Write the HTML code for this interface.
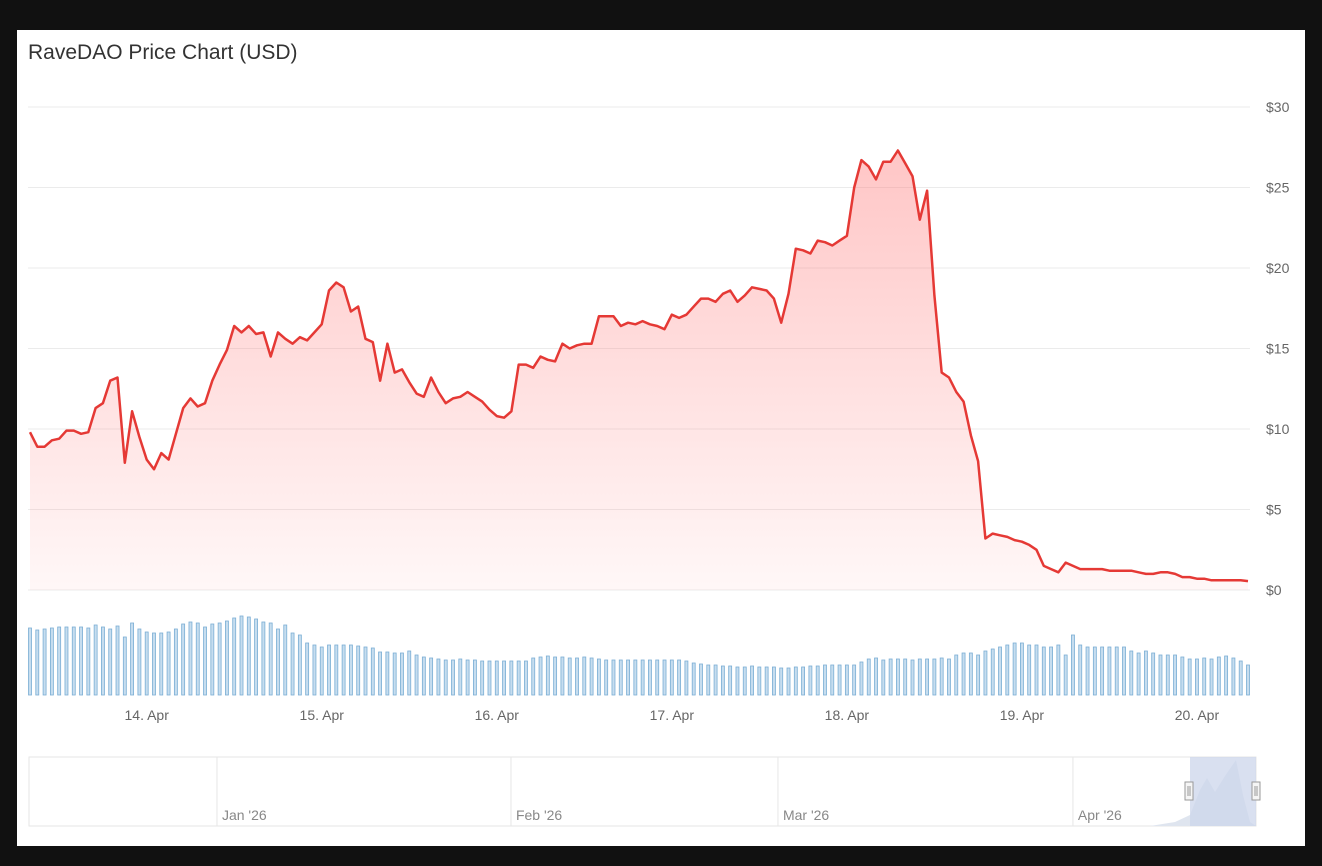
<!DOCTYPE html>
<html><head><meta charset="utf-8">
<style>
html,body{margin:0;padding:0;background:#111;width:1322px;height:866px;overflow:hidden}
#card{position:absolute;left:17px;top:30px;width:1288px;height:816px;background:#fff}
#title{position:absolute;left:28px;top:41px;font:21px "Liberation Sans",sans-serif;color:#333;margin:0;font-weight:normal}
svg{position:absolute;left:0;top:0}
text{font-family:"Liberation Sans",sans-serif}
</style></head>
<body>
<div id="card"></div>
<h1 id="title">RaveDAO Price Chart (USD)</h1>
<svg id="chart" width="1322" height="866">
<defs>
<linearGradient id="ag" x1="0" y1="0" x2="0" y2="1">
<stop offset="0" stop-color="#ff8080" stop-opacity="0.45"/>
<stop offset="1" stop-color="#ff8080" stop-opacity="0.06"/>
</linearGradient>
</defs>
</svg>
<script>
const prices=[9.8,8.9,8.9,9.3,9.4,9.9,9.9,9.7,9.8,11.3,
11.6,13.0,13.2,7.9,11.1,9.5,8.1,7.5,8.5,8.1,
9.7,11.3,11.9,11.4,11.6,13.0,14.0,14.9,16.4,16.0,
16.4,15.9,16.0,14.5,16.0,15.6,15.3,15.7,15.5,16.0,
16.5,18.6,19.1,18.8,17.3,17.6,15.6,15.4,13.0,15.3,
13.5,13.7,12.9,12.2,12.0,13.2,12.3,11.6,11.9,12.0,
12.3,12.0,11.7,11.2,10.8,10.7,11.1,14.0,14.0,13.8,
14.5,14.3,14.2,15.3,15.0,15.2,15.3,15.3,17.0,17.0,
17.0,16.4,16.6,16.5,16.7,16.5,16.4,16.2,17.1,16.9,
17.1,17.6,18.1,18.1,17.9,18.4,18.6,17.9,18.3,18.8,
18.7,18.6,18.1,16.6,18.4,21.2,21.1,20.9,21.7,21.6,
21.4,21.7,22.0,25.0,26.7,26.3,25.5,26.6,26.6,27.3,
26.5,25.7,23.0,24.8,18.3,13.5,13.2,12.3,11.7,9.6,
8.0,3.2,3.5,
3.4,3.3,3.1,3.0,2.8,2.5,1.5,1.3,1.1,1.7,
1.5,1.3,1.3,1.3,1.3,1.2,1.2,1.2,1.2,1.1,1.0,1.0,1.1,1.1,1.0,0.8,0.8,0.7,0.7,0.6,0.6,0.6,0.6,0.6,0.55];
const volumes=[67,65,66,67,68,68,68,68,67,70,68,66,69,58,72,66,
63,62,62,63,66,71,73,72,68,71,72,74,77,79,78,76,73,72,66,70,62,60,52,50,
48,50,50,50,50,49,48,47,43,43,42,42,44,40,38,37,36,35,35,36,35,35,34,34,
34,34,34,34,34,37,38,39,38,38,37,37,38,37,36,35,35,35,35,35,35,35,35,35,
35,35,34,32,31,30,30,29,29,28,28,29,28,28,28,27,27,28,28,29,29,30,30,30,
30,30,33,36,37,35,36,36,36,35,36,36,36,37,36,40,42,42,40,44,46,48,50,52,
52,50,50,48,48,50,40,60,50,48,48,48,48,48,48,44,42,44,42,40,40,40,38,36,
36,37,36,38,39,37,34,30];
const yTicks=[0,5,10,15,20,25,30];
const yTickLabels=["$0","$5","$10","$15","$20","$25","$30"];
const dayTickIdx=[16,40,64,88,112,136,160];
const dayTickLabels=["14. Apr","15. Apr","16. Apr","17. Apr","18. Apr","19. Apr","20. Apr"];
const navLabels=["Jan '26","Feb '26","Mar '26","Apr '26"];
const navDividerFrac=[0.1532,0.3928,0.6104,0.8508];

const NS="http://www.w3.org/2000/svg";
const svg=document.getElementById('chart');
const X0=30,X1=1248,step=(X1-X0)/167;
const xS=i=>X0+i*step;
const yS=v=>590-v*(483/30);
const vBase=695,vS=v=>v*1.0;
function mk(t,a,p){const e=document.createElementNS(NS,t);for(const k in a)e.setAttribute(k,a[k]);(p||svg).appendChild(e);return e;}

const grid=mk('g',{});


yTicks.forEach((v,i)=>{
  const l=mk('line',{x1:28,x2:1250,y1:yS(v),y2:yS(v),stroke:'#ebebeb','stroke-width':1},grid);
  
  
  const t=mk('text',{x:1266,y:yS(v)+5,'font-size':14,fill:'#666'});
  t.textContent=yTickLabels[i];
  
  
});

let d='M'+xS(0)+','+yS(prices[0]);
prices.forEach((p,i)=>{if(i)d+='L'+xS(i).toFixed(1)+','+yS(p).toFixed(1);});
const area=mk('path',{d:d+'L'+xS(prices.length-1)+',590L'+xS(0)+',590Z',fill:'url(#ag)'});


const line=mk('path',{d:d,fill:'none',stroke:'#e53935','stroke-width':2.5,'stroke-linejoin':'round'});



const vg=mk('g',{});


volumes.forEach((v,i)=>{
  const r=mk('rect',{x:xS(i)-1.5,y:vBase-vS(v),width:3,height:vS(v),fill:'#c6ddef',stroke:'#7aaed4','stroke-width':0.8},vg);
  
  
});

dayTickIdx.forEach((ix,i)=>{
  const t=mk('text',{x:xS(ix),y:720,'font-size':14,fill:'#666','text-anchor':'middle'});
  t.textContent=dayTickLabels[i];
  
  
});

const NX0=29,NX1=1256,NY0=757,NY1=826;
const nav=mk('g',{});


const nb=mk('rect',{x:NX0,y:NY0,width:NX1-NX0,height:NY1-NY0,fill:'#fff',stroke:'#e6e6e6'},nav);


navDividerFrac.forEach((f,i)=>{
  const x=NX0+f*(NX1-NX0);
  const l=mk('line',{x1:x,x2:x,y1:NY0,y2:NY1,stroke:'#e6e6e6'},nav);
  
  
  const t=mk('text',{x:x+5,y:820,'font-size':14,fill:'#888'},nav);
  t.textContent=navLabels[i];
  
  
});
const nArea=mk('path',{d:'M1150,826L1175,822L1190,815L1200,790L1207,778L1215,792L1225,776L1236,760L1243,795L1250,822L1256,826Z',fill:'#dfe5ef'},nav);


const sel=mk('rect',{x:1190,y:NY0,width:66,height:NY1-NY0,fill:'#ccd6eb',opacity:0.75},nav);


[1189,1256].forEach(x=>{
  const h=mk('rect',{x:x-4,y:782,width:8,height:18,fill:'#f5f5f5',stroke:'#999'},nav);
  
  
  mk('line',{x1:x-1,x2:x-1,y1:786,y2:796,stroke:'#999'},nav);
  mk('line',{x1:x+1,x2:x+1,y1:786,y2:796,stroke:'#999'},nav);
});
</script>
</body></html>
